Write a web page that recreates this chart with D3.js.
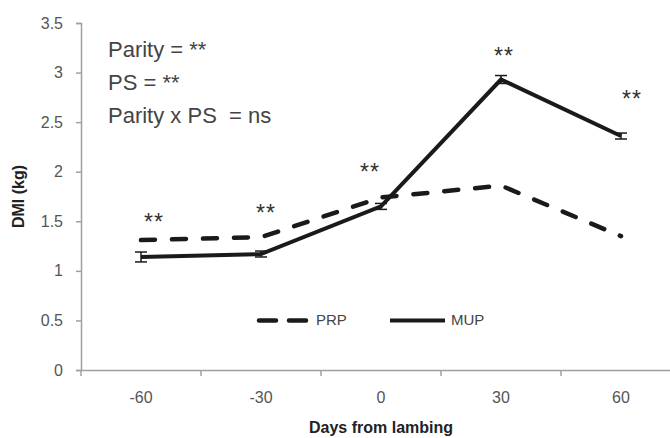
<!DOCTYPE html>
<html>
<head>
<meta charset="utf-8">
<script src="https://cdn.jsdelivr.net/npm/d3@7"></script>
<style>
  body { margin: 0; background: #fff; }
  svg { display: block; }
</style>
</head>
<body>
<div id="chart"></div>
<script>
// DMI by days from lambing
const days = ["-60", "-30", "0", "30", "60"];
const prpValues = [1.31, 1.34, 1.74, 1.86, 1.35];
const mupValues = [1.14, 1.17, 1.65, 2.93, 2.36];
const mupErrors = [0.05, 0.03, 0.03, 0.04, 0.03];
const starLabels = ["**", "**", "**", "**", "**"];
const starLevels = [1.54, 1.63, 2.04, 3.21, 2.78];
const yTicks = [0, 0.5, 1, 1.5, 2, 2.5, 3, 3.5];
const notes = ["Parity = **", "PS = **", "Parity x PS  = ns"];

const width = 670, height = 438;
const margin = { top: 23, right: -11, bottom: 68, left: 81 };
const innerW = width - margin.left - margin.right;
const innerH = height - margin.top - margin.bottom;

const svg = d3.select("#chart")
    .append("svg")
    .attr("width", width)
    .attr("height", height)
    .style("font-family", "'Liberation Sans', Arial, sans-serif");

const g = svg.append("g")
    .attr("transform", `translate(${margin.left},${margin.top})`);

const x = d3.scaleBand().domain(days).range([0, innerW]);
const y = d3.scaleLinear().domain([0, 3.5]).range([innerH, 0]);
const cx = d => x(d) + x.bandwidth() / 2;

// axes
const yAxis = g.append("g")
    .call(d3.axisLeft(y).tickValues(yTicks).tickSize(5).tickPadding(13).tickFormat(d3.format("")));
const xAxis = g.append("g")
    .attr("transform", `translate(0,${innerH})`)
    .call(d3.axisBottom(x).tickSize(0).tickPadding(22));

[yAxis, xAxis].forEach(a => {
    a.select(".domain").attr("stroke", "#a0a0a0").attr("stroke-width", 1.5);
    a.selectAll(".tick line").attr("stroke", "#a0a0a0").attr("stroke-width", 1.5);
    a.selectAll("text").attr("fill", "#555").style("font-size", "16px");
});

// x ticks sit on band boundaries
g.append("g").selectAll("line")
    .data(days)
    .join("line")
    .attr("x1", d => x(d)).attr("x2", d => x(d))
    .attr("y1", innerH).attr("y2", innerH + 6)
    .attr("stroke", "#a0a0a0").attr("stroke-width", 1.5);

// lines
const line = d3.line()
    .x((d, i) => cx(days[i]))
    .y(d => y(d));

g.append("path")
    .datum(prpValues)
    .attr("d", line)
    .attr("fill", "none")
    .attr("stroke", "#1a1a1a")
    .attr("stroke-width", 4.5)
    .attr("stroke-linecap", "round")
    .attr("stroke-dasharray", "14,17");

g.append("path")
    .datum(mupValues)
    .attr("d", line)
    .attr("fill", "none")
    .attr("stroke", "#1a1a1a")
    .attr("stroke-width", 4);

// error bars
const eb = g.append("g").attr("stroke", "#1a1a1a").attr("stroke-width", 1.5);
mupValues.forEach((v, i) => {
    const px = cx(days[i]);
    const lo = y(v - mupErrors[i]), hi = y(v + mupErrors[i]);
    eb.append("line").attr("x1", px).attr("x2", px).attr("y1", lo).attr("y2", hi);
    eb.append("line").attr("x1", px - 6).attr("x2", px + 6).attr("y1", lo).attr("y2", lo);
    eb.append("line").attr("x1", px - 6).attr("x2", px + 6).attr("y1", hi).attr("y2", hi);
});

// significance stars (value = vertical centre of the glyphs)
const starOffsets = [13, 5, -11, 3, 11];
g.append("g").selectAll("text")
    .data(starLabels)
    .join("text")
    .attr("x", (d, i) => cx(days[i]) + starOffsets[i])
    .attr("y", (d, i) => y(starLevels[i]))
    .attr("dy", "0.55em")
    .attr("text-anchor", "middle")
    .attr("fill", "#333")
    .style("font-size", "23px")
    .style("letter-spacing", "1px")
    .text(d => d);

// notes
g.append("g").selectAll("text")
    .data(notes)
    .join("text")
    .attr("x", 27)
    .attr("y", (d, i) => 34 + i * 33)
    .attr("fill", "#444")
    .style("font-size", "22px")
    .style("white-space", "pre")
    .text(d => d);

// legend
const legend = g.append("g").attr("transform", `translate(176,${y(0.5)})`);
legend.append("line")
    .attr("x1", 2).attr("x2", 50).attr("y1", 0).attr("y2", 0)
    .attr("stroke", "#1a1a1a").attr("stroke-width", 4.5)
    .attr("stroke-linecap", "round")
    .attr("stroke-dasharray", "17,13");
legend.append("text").attr("x", 59).attr("y", 5)
    .attr("fill", "#444").style("font-size", "15px").text("PRP");
legend.append("line")
    .attr("x1", 133).attr("x2", 188).attr("y1", 0).attr("y2", 0)
    .attr("stroke", "#1a1a1a").attr("stroke-width", 4);
legend.append("text").attr("x", 194).attr("y", 5)
    .attr("fill", "#444").style("font-size", "15px").text("MUP");

// axis titles
svg.append("text")
    .attr("transform", `translate(24,${margin.top + y(1.75)}) rotate(-90)`)
    .attr("text-anchor", "middle")
    .style("font-size", "16px")
    .style("font-weight", "bold")
    .attr("fill", "#222")
    .text("DMI (kg)");

svg.append("text")
    .attr("x", margin.left + 300)
    .attr("y", 433)
    .attr("text-anchor", "middle")
    .style("font-size", "16px")
    .style("font-weight", "bold")
    .attr("fill", "#222")
    .text("Days  from lambing");
</script>
</body>
</html>
